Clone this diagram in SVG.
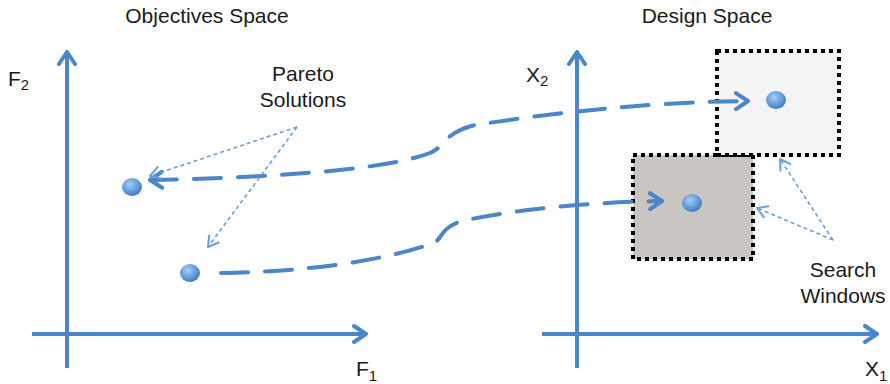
<svg xmlns="http://www.w3.org/2000/svg" width="890" height="384" viewBox="0 0 890 384">
<defs>
<style>
.axis{stroke:#4a86c8;stroke-width:4;fill:none}
.conn{stroke:#4a86c8;stroke-width:4;fill:none;stroke-dasharray:27 17;stroke-linecap:round}
.ptr{stroke:#6d9fd8;stroke-width:1.6;fill:none;stroke-dasharray:4 3}
.lbl{font-family:"Liberation Sans",Arial,sans-serif;font-size:21px;fill:#1a1a1a}
.win{stroke:#000;stroke-width:4;stroke-dasharray:4 4}
</style>
<marker id="ah" markerUnits="userSpaceOnUse" viewBox="0 0 16 20" refX="14" refY="10" markerWidth="16" markerHeight="20" orient="auto-start-reverse">
<path d="M2,2 L14,10 L2,18" fill="none" stroke="#4a86c8" stroke-width="4" stroke-linecap="round" stroke-linejoin="round"/>
</marker>
<marker id="th" markerUnits="userSpaceOnUse" viewBox="0 0 14 14" refX="12" refY="7" markerWidth="14" markerHeight="14" orient="auto">
<path d="M2,1 L12,7 L2,13" fill="none" stroke="#6d9fd8" stroke-width="2" stroke-linecap="round" stroke-linejoin="round"/>
</marker>
<radialGradient id="dotg" cx="0.4" cy="0.35" r="0.7">
<stop offset="0" stop-color="#a9cdf3"/>
<stop offset="0.6" stop-color="#5f9ada"/>
<stop offset="1" stop-color="#3e75b8"/>
</radialGradient>
</defs>
<rect width="890" height="384" fill="#fff"/>

<g id="titles">
<text class="lbl" x="207" y="23" text-anchor="middle">Objectives Space</text>
<text class="lbl" x="707" y="23" text-anchor="middle">Design Space</text>
</g>

<g id="objectives-axes">
<line class="axis" x1="67" y1="368" x2="67" y2="52" marker-end="url(#ah)"/>
<line class="axis" x1="32" y1="334" x2="366" y2="334" marker-end="url(#ah)"/>
<text class="lbl" x="8" y="86">F<tspan font-size="15" dy="4">2</tspan></text>
<text class="lbl" x="356" y="376">F<tspan font-size="15" dy="5">1</tspan></text>
</g>

<g id="design-axes">
<line class="axis" x1="577" y1="368" x2="577" y2="52" marker-end="url(#ah)"/>
<line class="axis" x1="542" y1="334" x2="877" y2="334" marker-end="url(#ah)"/>
<text class="lbl" x="526" y="82">X<tspan font-size="15" dy="4">2</tspan></text>
<text class="lbl" x="865" y="376">X<tspan font-size="15" dy="5">1</tspan></text>
</g>

<g id="window-lower">
<rect class="win" x="633" y="155" width="120" height="104" fill="#c9c5c3"/>
</g>
<g id="window-upper">
<rect class="win" x="717" y="51" width="122" height="104" fill="#f4f4f4"/>
</g>

<g id="connectors">
<path class="conn" d="M150,180 C250,178 380,172 430,153 C445,147 443,133 475,125 C560,112 650,102 748,101" marker-start="url(#ah)" marker-end="url(#ah)"/>
<path class="conn" d="M221,273 C300,272 380,262 434,243 C443,238 440,228 462,221 C520,208 600,202 662,201" marker-end="url(#ah)"/>
<path class="ptr" d="M297,127 L150,176" marker-end="url(#th)"/>
<path class="ptr" d="M297,127 L208,247" marker-end="url(#th)"/>
<path class="ptr" d="M833,240 L780,159" marker-end="url(#th)"/>
<path class="ptr" d="M833,240 L757,208" marker-end="url(#th)"/>
</g>

<g id="dot-obj-1"><ellipse cx="132" cy="187" rx="10" ry="9" fill="url(#dotg)"/></g>
<g id="dot-obj-2"><ellipse cx="190" cy="273" rx="10" ry="9" fill="url(#dotg)"/></g>
<g id="dot-des-1"><ellipse cx="776" cy="100" rx="10" ry="9" fill="url(#dotg)"/></g>
<g id="dot-des-2"><ellipse cx="692" cy="203" rx="10" ry="9" fill="url(#dotg)"/></g>

<g id="pareto-label">
<text class="lbl" x="303" y="81" text-anchor="middle">Pareto</text>
<text class="lbl" x="303" y="107" text-anchor="middle">Solutions</text>
</g>
<g id="search-label">
<text class="lbl" x="843" y="277" text-anchor="middle">Search</text>
<text class="lbl" x="843" y="303" text-anchor="middle">Windows</text>
</g>
</svg>
